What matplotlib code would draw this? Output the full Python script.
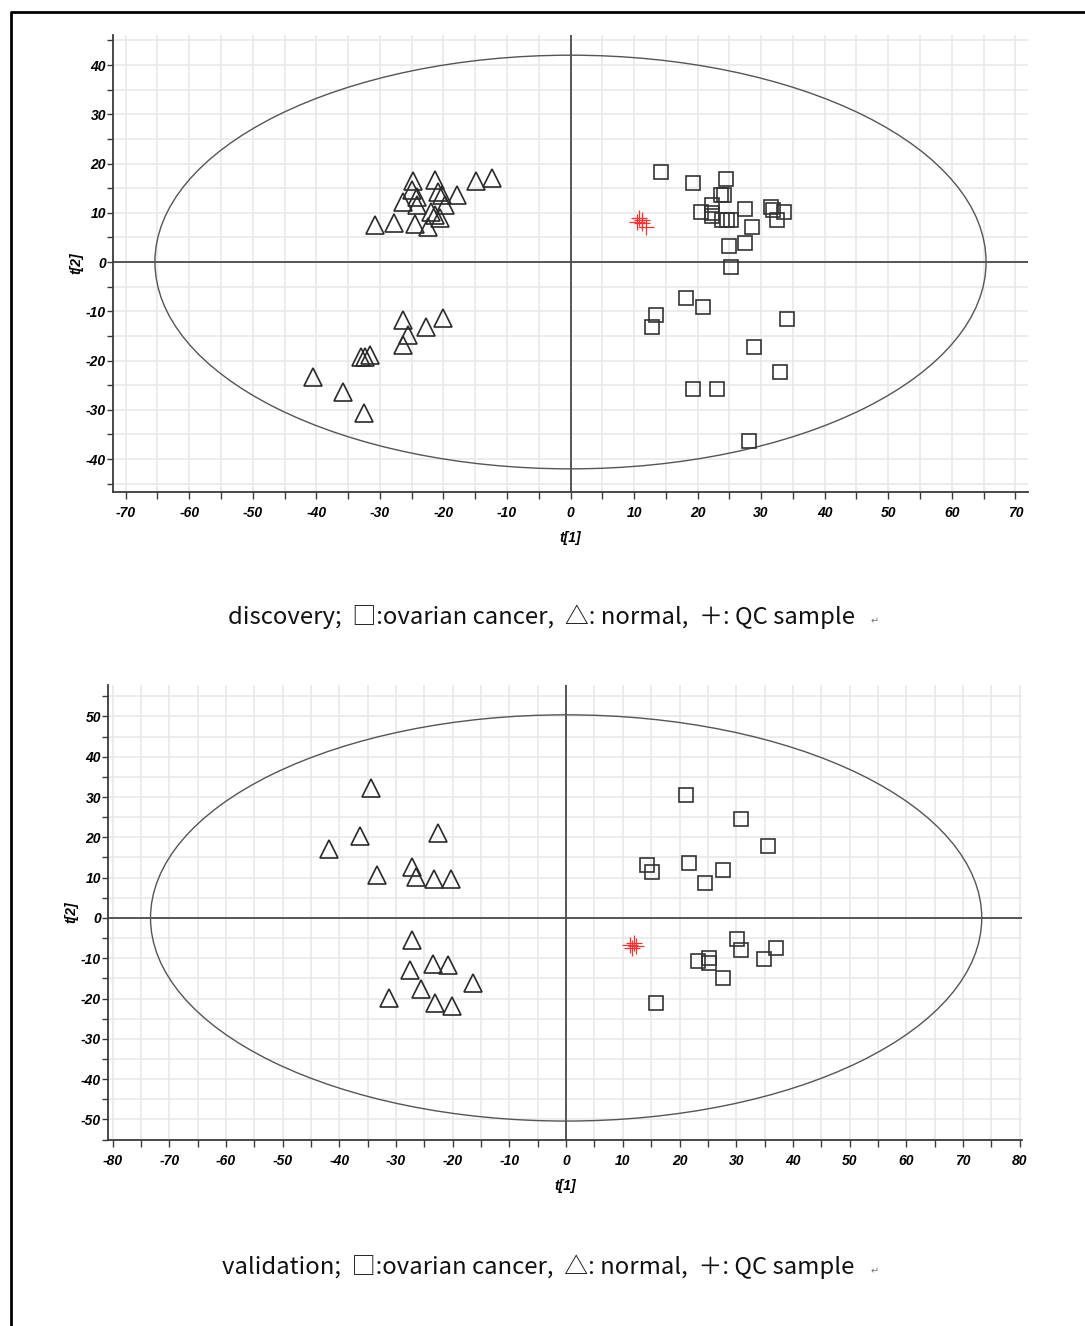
import matplotlib
matplotlib.use("Agg")
import matplotlib.pyplot as plt
from matplotlib.patches import Ellipse
from matplotlib.lines import Line2D
from matplotlib.ticker import MultipleLocator

# ---------------- data: discovery ----------------
disc_normal_x = [-24.8, -21.4, -14.8, -12.4, -25.0, -26.4, -24.2, -24.1, -20.9, -20.3, -17.9,
                 -19.8, -21.9, -20.6, -30.8, -27.7, -24.5, -22.5, -21.4,
                 -26.4, -25.6, -26.3, -22.8, -20.0, -32.9, -32.4, -31.6, -40.6, -35.8, -32.5]
disc_normal_y = [16.5, 16.7, 16.5, 17.1, 14.6, 12.2, 13.2, 11.6, 14.2, 13.6, 13.6,
                 11.6, 10.2, 8.9, 7.5, 7.9, 7.7, 7.1, 9.6,
                 -11.8, -14.8, -16.9, -13.2, -11.4, -19.3, -19.3, -18.9, -23.4, -26.4, -30.7]
disc_cancer_x = [14.3, 19.3, 24.4, 23.7, 24.2, 22.2, 20.6, 22.2, 22.3, 23.9, 24.7, 25.3, 27.5,
                 28.6, 31.6, 31.8, 33.6, 32.5, 25.0, 27.5, 25.2, 18.1, 20.8, 13.4, 12.9,
                 34.0, 28.8, 32.9, 19.2, 23.1, 28.1]
disc_cancer_y = [18.3, 16.1, 16.9, 13.6, 13.6, 11.6, 10.2, 10.0, 9.3, 8.5, 8.5, 8.5, 10.8,
                 7.1, 11.2, 10.6, 10.2, 8.5, 3.3, 3.9, -1.0, -7.3, -9.1, -10.8, -13.2,
                 -11.6, -17.3, -22.4, -25.8, -25.8, -36.4]
disc_qc_x = [10.4, 10.8, 11.3, 11.9, 11.2]
disc_qc_y = [8.1, 8.9, 8.5, 7.1, 7.9]
disc_ellipse = (65.4, 42.0)   # semi-axes t[1], t[2]
disc_xlim = (-72.0, 72.0)
disc_ylim = (-46.7, 46.1)
disc_xticks = [-70, -60, -50, -40, -30, -20, -10, 0, 10, 20, 30, 40, 50, 60, 70]
disc_yticks = [-40, -30, -20, -10, 0, 10, 20, 30, 40]

# ---------------- data: validation ----------------
val_normal_x = [-34.4, -36.3, -41.8, -22.6, -33.3, -27.2, -26.5, -23.3, -20.3,
                -27.2, -27.5, -23.5, -20.8, -25.6, -16.4, -31.2, -23.1, -20.1]
val_normal_y = [32.3, 20.3, 17.1, 21.1, 10.7, 12.7, 10.2, 9.7, 9.7,
                -5.5, -12.9, -11.4, -11.7, -17.6, -16.1, -19.9, -21.1, -21.8]
val_cancer_x = [21.2, 30.9, 35.6, 14.3, 15.2, 21.7, 24.5, 27.7, 30.2, 30.9, 37.0, 34.9,
                23.3, 25.2, 25.2, 27.7, 15.9]
val_cancer_y = [30.5, 24.6, 17.9, 13.2, 11.4, 13.6, 8.7, 11.9, -5.2, -7.9, -7.4, -10.2,
                -10.7, -9.9, -11.2, -14.9, -21.1]
val_qc_x = [11.3, 12.0, 12.3, 11.6]
val_qc_y = [-6.7, -6.2, -6.9, -7.4]
val_ellipse = (73.3, 50.4)
val_xlim = (-80.8, 80.4)
val_ylim = (-55.1, 57.8)
val_xticks = [-80, -70, -60, -50, -40, -30, -20, -10, 0, 10, 20, 30, 40, 50, 60, 70, 80]
val_yticks = [-50, -40, -30, -20, -10, 0, 10, 20, 30, 40, 50]

captions = ["discovery;  \u25a1:ovarian cancer,  \u25b3: normal,  \uff0b: QC sample",
            "validation;  \u25a1:ovarian cancer,  \u25b3: normal,  \uff0b: QC sample"]

W, H = 1085, 1326
fig = plt.figure(figsize=(W / 100, H / 100), dpi=100)
fig.patch.set_facecolor("white")

TICKFONT = dict(family=["Liberation Sans Narrow", "Liberation Sans", "DejaVu Sans"],
                weight="bold", style="italic", size=10)
DARK = "#3a3a3a"


def panel(rect, nx, ny, cx, cy, qx, qy, ell, xlim, ylim, xt, yt):
    ax = fig.add_axes(rect)
    ax.set_xlim(*xlim)
    ax.set_ylim(*ylim)
    for s in ("top", "right"):
        ax.spines[s].set_visible(False)
    for s in ("left", "bottom"):
        ax.spines[s].set_color(DARK)
        ax.spines[s].set_linewidth(1.3)
    ax.xaxis.set_minor_locator(MultipleLocator(5))
    ax.yaxis.set_minor_locator(MultipleLocator(5))
    ax.set_xticks(xt)
    ax.set_yticks(yt)
    ax.set_xticklabels([str(v) for v in xt], fontdict=TICKFONT)
    ax.set_yticklabels([str(v) for v in yt], fontdict=TICKFONT)
    ax.tick_params(which="both", direction="out", color=DARK, width=1.0)
    ax.tick_params(axis="x", which="both", length=5, pad=5)
    ax.tick_params(axis="y", which="both", length=4, pad=1)
    ax.grid(which="both", color="#e9e9e9", linewidth=1.2)
    ax.set_axisbelow(True)
    ax.axhline(0, color="#4a4a4a", lw=1.3, zorder=2)
    ax.axvline(0, color="#4a4a4a", lw=1.3, zorder=2)
    ax.add_patch(Ellipse((0, 0), 2 * ell[0], 2 * ell[1], fill=False,
                         edgecolor="#555555", lw=1.0, zorder=2))
    ax.plot(nx, ny, linestyle="none", marker="^", markersize=12.5,
            markerfacecolor="none", markeredgecolor="#2a2a2a", markeredgewidth=1.2, zorder=3)
    ax.plot(cx, cy, linestyle="none", marker="s", markersize=9.5,
            markerfacecolor="none", markeredgecolor="#333333", markeredgewidth=1.2, zorder=3)
    ax.plot(qx, qy, linestyle="none", marker="+", markersize=11,
            markeredgecolor="#ff3030", markeredgewidth=0.9, zorder=4)
    ax.set_xlabel("t[1]", fontdict=TICKFONT, labelpad=8)
    ax.set_ylabel("t[2]", fontdict=TICKFONT, labelpad=2)
    return ax


panel([113 / W, 1 - 492 / H, (1028 - 113) / W, (492 - 35) / H],
      disc_normal_x, disc_normal_y, disc_cancer_x, disc_cancer_y, disc_qc_x, disc_qc_y,
      disc_ellipse, disc_xlim, disc_ylim, disc_xticks, disc_yticks)
panel([108 / W, 1 - 1140 / H, (1022 - 108) / W, (1140 - 685) / H],
      val_normal_x, val_normal_y, val_cancer_x, val_cancer_y, val_qc_x, val_qc_y,
      val_ellipse, val_xlim, val_ylim, val_xticks, val_yticks)

CAPFONT = ["Noto Sans CJK SC", "DejaVu Sans"]
fig.text(228 / W, 1 - 617 / H, captions[0], ha="left", va="center",
         fontsize=17.2, family=CAPFONT, color="#111111")
fig.text(875 / W, 1 - 621 / H, "\u21b5", ha="center", va="center",
         fontsize=7, family=["DejaVu Sans"], color="#777777")
fig.text(222 / W, 1 - 1267 / H, captions[1], ha="left", va="center",
         fontsize=17.2, family=CAPFONT, color="#111111")
fig.text(875 / W, 1 - 1271 / H, "\u21b5", ha="center", va="center",
         fontsize=7, family=["DejaVu Sans"], color="#777777")

# page frame
fig.add_artist(Line2D([11 / W, 11 / W, 1.0], [0.0, 1 - 12 / H, 1 - 12 / H],
                      transform=fig.transFigure, color="black", lw=2))

fig.savefig("out.png", dpi=100)
